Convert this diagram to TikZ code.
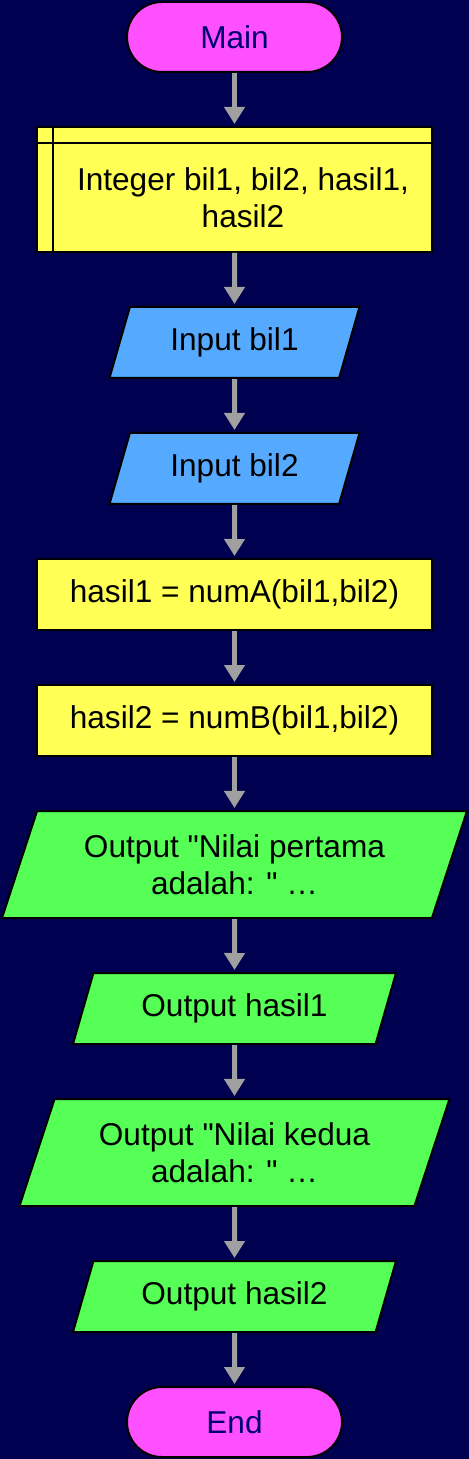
\documentclass[tikz,border=0pt]{standalone}
\usepackage{fontspec}
\setmainfont{Liberation Sans}[Ligatures=TeXReset]
\usepackage{xcolor}
\usetikzlibrary{shapes.geometric,arrows.meta}

\definecolor{bgnavy}{HTML}{000050}
\definecolor{termfill}{HTML}{FF50FF}
\definecolor{termtext}{HTML}{000070}
\definecolor{declfill}{HTML}{FFFF55}
\definecolor{infill}{HTML}{55AAFF}
\definecolor{outfill}{HTML}{55FF55}
\definecolor{flowgray}{HTML}{A0A0A0}

\tikzset{
  box/.style={draw, line width=1pt, align=center, font=\fontsize{15.8}{18.5}\selectfont},
  terminal/.style={box, rectangle, rounded corners=17.5pt, fill=termfill, text=termtext, minimum width=107.5pt, minimum height=35pt},
  process/.style={box, rectangle, fill=declfill, minimum width=197.5pt},
  io/.style={box, trapezium, trapezium left angle=64.5, trapezium right angle=115.5, trapezium stretches body},
  flow/.style={draw=flowgray, line width=2.5pt, -{Triangle[width=10pt,length=8.5pt]}, shorten >=1pt}
}

\begin{document}
\begin{tikzpicture}[x=0.5pt, y=-0.5pt]
            \fill[bgnavy] (0,0) rectangle (469,1459);
            \useasboundingbox (0,0) rectangle (469,1459);

            \node [terminal] (main) at (234.5,37) {Main};
            \node [process, minimum height=62.5pt] (decl) at (234.5,189.5) {};
            \node [box, draw=none] (decltext) at (243,198) {Integer bil1, bil2, hasil1,\\hasil2};
            \node [io, fill=infill, minimum width=125pt, minimum height=35.5pt] (inbil1) at (234.5,342.5) {Input bil1};
            \node [io, fill=infill, minimum width=125pt, minimum height=35.5pt] (inbil2) at (234.5,468.5) {Input bil2};
            \node [process, minimum height=35.5pt] (hitung1) at (234.5,594.5) {hasil1 = numA(bil1,bil2)};
            \node [process, minimum height=35.5pt] (hitung2) at (234.5,720.5) {hasil2 = numB(bil1,bil2)};
            \node [io, fill=outfill, minimum width=232.5pt, minimum height=53.5pt] (outpertama) at (234.5,864.5) {Output "Nilai pertama\\adalah: " \dots};
            \node [io, fill=outfill, minimum width=161.5pt, minimum height=35.5pt] (outhasil1) at (234.5,1008.5) {Output hasil1};
            \node [io, fill=outfill, minimum width=215pt, minimum height=53.5pt] (outkedua) at (234.5,1152.5) {Output "Nilai kedua\\adalah: " \dots};
            \node [io, fill=outfill, minimum width=161.5pt, minimum height=35.5pt] (outhasil2) at (234.5,1296.5) {Output hasil2};
            \node [terminal] (end) at (234.5,1422) {End};

            % subroutine-style lines of the declare box
            \draw[line width=1pt] ([xshift=8.5pt]decl.north west) -- ([xshift=8.5pt]decl.south west);
            \draw[line width=1pt] ([yshift=-8.5pt]decl.north west) -- ([yshift=-8.5pt]decl.north east);

            \draw[flow] (main) -- (decl);
            \draw[flow] (decl) -- (inbil1);
            \draw[flow] (inbil1) -- (inbil2);
            \draw[flow] (inbil2) -- (hitung1);
            \draw[flow] (hitung1) -- (hitung2);
            \draw[flow] (hitung2) -- (outpertama);
            \draw[flow] (outpertama) -- (outhasil1);
            \draw[flow] (outhasil1) -- (outkedua);
            \draw[flow] (outkedua) -- (outhasil2);
            \draw[flow] (outhasil2) -- (end);
        \end{tikzpicture}
\end{document}
